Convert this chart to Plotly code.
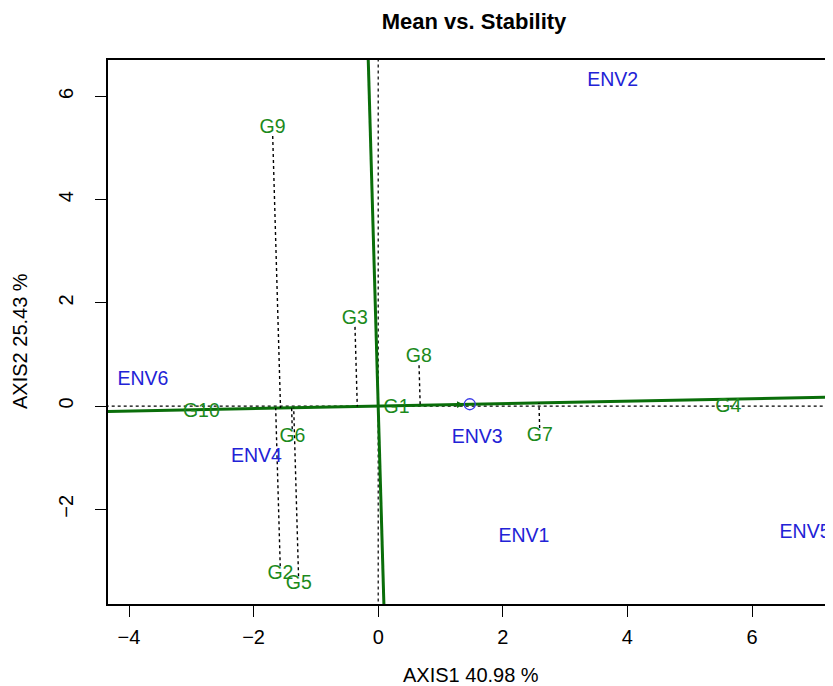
import numpy as np
import plotly.graph_objects as go

# ---- data ----
genotypes = ["G1", "G2", "G3", "G4", "G5", "G6", "G7", "G8", "G9", "G10"]
gen_x = [0.294, -1.569, -0.376, 5.619, -1.275, -1.376, 2.595, 0.652, -1.697, -2.838]
gen_y = [-0.039, -3.253, 1.684, -0.027, -3.446, -0.600, -0.575, 0.941, 5.382, -0.116]

environments = ["ENV1", "ENV2", "ENV3", "ENV4", "ENV5", "ENV6"]
env_x = [2.338, 3.763, 1.588, -1.954, 6.851, -3.776]
env_y = [-2.530, 6.304, -0.620, -0.987, -2.459, 0.496]

avg_env = [1.47, 0.035]   # average-environment point

x_ticks = [-4, -2, 0, 2, 4, 6]
y_ticks = [-2, 0, 2, 4, 6]
x_range = [-4.337, 7.30]
y_range = [-3.835, 6.705]

title = "Mean vs. Stability"
x_title = "AXIS1 40.98 %"
y_title = "AXIS2 25.43 %"

GREEN_LINE = "#0a6e0a"
GREEN_TEXT = "#1c8a1c"
BLUE_TEXT = "#2222d6"
FONT = "Liberation Sans, Arial, sans-serif"

# page body has an 8px margin; figure is sized to fill the rest
W, H = 825, 678
ML, MT, MB = 100, 52, 82
PW, PH = W - ML, H - MT - MB

fig = go.Figure()

# reference dotted axes through origin
fig.add_trace(go.Scatter(x=[x_range[0] - 1, x_range[1] + 1], y=[0, 0], mode="lines",
                         line=dict(color="black", width=1.2, dash="dot"), hoverinfo="skip"))
fig.add_trace(go.Scatter(x=[0, 0], y=[y_range[0] - 1, y_range[1] + 1], mode="lines",
                         line=dict(color="black", width=1.2, dash="dot"), hoverinfo="skip"))

# average environment axis (abscissa) and its perpendicular (ordinate)
m = avg_env[1] / avg_env[0]
xa = np.array([x_range[0] - 1, x_range[1] + 1])
fig.add_trace(go.Scatter(x=xa, y=m * xa, mode="lines",
                         line=dict(color=GREEN_LINE, width=3), hoverinfo="skip"))
yo = np.array([y_range[0] - 1, y_range[1] + 1])
fig.add_trace(go.Scatter(x=-m * yo, y=yo, mode="lines",
                         line=dict(color=GREEN_LINE, width=3), hoverinfo="skip"))

# projections of genotypes onto the abscissa
d = np.array([1.0, m]) / np.hypot(1.0, m)
gap = 0.15  # keep the dotted line clear of the label
for gx, gy in zip(gen_x, gen_y):
    p = np.array([gx, gy])
    proj = p.dot(d) * d
    vec = proj - p
    if abs(vec[1]) <= gap:
        continue
    start = p + vec / np.hypot(*vec) * gap
    fig.add_trace(go.Scatter(x=[start[0], proj[0]], y=[start[1], proj[1]], mode="lines",
                             line=dict(color="black", width=1.4, dash="dot"), hoverinfo="skip"))

# average environment marker + arrow
fig.add_trace(go.Scatter(x=[avg_env[0]], y=[avg_env[1]], mode="markers",
                         marker=dict(symbol="circle-open", size=11, color="#3a3ae8",
                                     line=dict(width=1.3)), hoverinfo="skip"))
fig.add_annotation(x=avg_env[0], y=avg_env[1], ax=0, ay=0, axref="x", ayref="y",
                   xref="x", yref="y", showarrow=True, arrowhead=2, arrowsize=0.9,
                   arrowwidth=1.5, arrowcolor=GREEN_LINE, standoff=6, text="")

# labels
fig.add_trace(go.Scatter(x=gen_x, y=gen_y, mode="text", text=genotypes,
                         textposition="middle center", cliponaxis=False,
                         textfont=dict(family=FONT, size=19.5, color=GREEN_TEXT), hoverinfo="skip"))
fig.add_trace(go.Scatter(x=env_x, y=env_y, mode="text", text=environments,
                         textposition="middle center", cliponaxis=False,
                         textfont=dict(family=FONT, size=19.5, color=BLUE_TEXT), hoverinfo="skip"))

fig.update_layout(
    width=W, height=H,
    margin=dict(l=ML, r=0, t=MT, b=MB, autoexpand=False),
    paper_bgcolor="white", plot_bgcolor="white",
    showlegend=False,
    font=dict(family=FONT, color="black"),
    title=dict(text="<b>" + title + "</b>", x=466 / W, xanchor="center",
               y=1 - 13.5 / H, yanchor="middle", font=dict(size=22, family=FONT, color="black")),
)
minus = lambda v: str(v).replace("-", "\u2212")
fig.update_xaxes(range=x_range, tickvals=x_ticks, ticktext=[minus(v) for v in x_ticks],
                 showgrid=False, zeroline=False, showline=True, linecolor="black", linewidth=1.5,
                 mirror=True, ticks="outside", ticklen=11, tickwidth=1.3, tickcolor="black",
                 ticklabelstandoff=3, tickfont=dict(size=20, family=FONT))
fig.update_yaxes(range=y_range, tickvals=y_ticks, ticktext=[minus(v) for v in y_ticks],
                 showgrid=False, zeroline=False, showline=True, linecolor="black", linewidth=1.5,
                 mirror=False, ticks="outside", ticklen=11, tickwidth=1.3, tickcolor="black",
                 tickangle=-90, ticklabelstandoff=14, tickfont=dict(size=20, family=FONT))

fig.add_annotation(text=x_title, xref="paper", yref="paper", x=0.5, y=-(667 - (H - MB)) / PH,
                   xanchor="center", yanchor="middle", showarrow=False,
                   font=dict(size=20, family=FONT, color="black"))
fig.add_annotation(text=y_title, xref="paper", yref="paper", x=(12 - ML) / PW, y=((H - MB) - 333) / PH,
                   xanchor="center", yanchor="middle", textangle=-90, showarrow=False,
                   font=dict(size=20, family=FONT, color="black"))

fig.write_html("out.html")
